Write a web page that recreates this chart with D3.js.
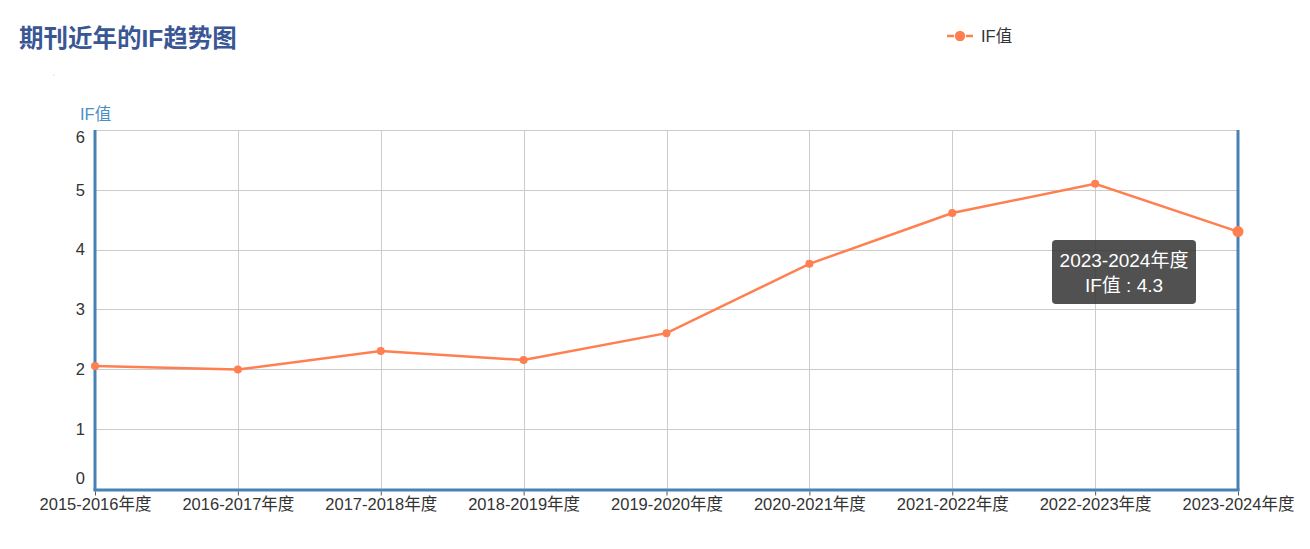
<!DOCTYPE html>
<html><head><meta charset="utf-8">
<script src="https://cdn.jsdelivr.net/npm/d3@7"></script>
<style>body{margin:0;background:#fff;}svg{font-family:"Liberation Sans","Noto Sans CJK SC",sans-serif;}</style>
</head><body>
<svg id="c" width="1310" height="549"></svg>
<script>
const categories = ["2015-2016年度","2016-2017年度","2017-2018年度","2018-2019年度","2019-2020年度","2020-2021年度","2021-2022年度","2022-2023年度","2023-2024年度"];
const ifValues = [2.05, 1.99, 2.3, 2.15, 2.6, 3.76, 4.61, 5.1, 4.3];
const yTicks = [0,1,2,3,4,5,6];
const seriesName = "IF值";
const titleText = "期刊近年的IF趋势图";

(function(){
const svg = d3.select("#c");
const pL = 95, pR = 1238, pT = 130, pB = 488.5;
const x = d3.scalePoint().domain(categories).range([pL, pR]);
const y = d3.scaleLinear().domain([0, 6]).range([pB, pT]);
const color = "#ff7f50", axisBlue = "#4682b4";
const ff = "Liberation Sans, Noto Sans CJK SC, sans-serif";

// title
svg.append("text").attr("x", 19).attr("y", 47).attr("font-size", 24.5).attr("font-weight", "bold")
  .attr("fill", "#3a5795").text(titleText);
svg.append("circle").attr("cx",54).attr("cy",75).attr("r",0.6).attr("fill","#bbb");

// legend
const lg = svg.append("g");
lg.append("line").attr("x1", 947).attr("x2", 954).attr("y1", 36).attr("y2", 36).attr("stroke", color).attr("stroke-width", 2.5);
lg.append("line").attr("x1", 966).attr("x2", 973).attr("y1", 36).attr("y2", 36).attr("stroke", color).attr("stroke-width", 2.5);
lg.append("circle").attr("cx", 960).attr("cy", 36).attr("r", 5.2).attr("fill", color);
lg.append("text").attr("x", 981).attr("y", 42).attr("font-size", 16.5).attr("fill", "#333").text(seriesName);

// y axis name
svg.append("text").attr("x", 80).attr("y", 120).attr("font-size", 16.5).attr("fill", "#4a8ec6").text(seriesName);

// horizontal grid
svg.append("g").selectAll("line").data(yTicks).join("line")
  .attr("x1", pL).attr("x2", pR).attr("y1", d => Math.round(y(d)) + 0.5).attr("y2", d => Math.round(y(d)) + 0.5)
  .attr("stroke", "#ccc").attr("stroke-width", 1);
// vertical grid
svg.append("g").selectAll("line").data(categories).join("line")
  .attr("x1", d => Math.round(x(d)) + 0.5).attr("x2", d => Math.round(x(d)) + 0.5).attr("y1", pT).attr("y2", pB)
  .attr("stroke", "#ccc").attr("stroke-width", 1);

// axes lines
svg.append("line").attr("x1", pL).attr("x2", pL).attr("y1", pT).attr("y2", pB + 2).attr("stroke", axisBlue).attr("stroke-width", 3);
svg.append("line").attr("x1", pR).attr("x2", pR).attr("y1", pT).attr("y2", pB + 2).attr("stroke", axisBlue).attr("stroke-width", 3);
svg.append("line").attr("x1", pL - 1.5).attr("x2", pR + 1.5).attr("y1", pB + 1.5).attr("y2", pB + 1.5).attr("stroke", axisBlue).attr("stroke-width", 3);

// x axis ticks & labels
const xa = svg.append("g").attr("transform", `translate(0,${pB + 3})`)
  .call(d3.axisBottom(x).tickSize(4).tickPadding(3));
xa.select(".domain").remove();
xa.selectAll(".tick line").attr("stroke", "#555");
xa.selectAll(".tick text").attr("font-size", 16.5).attr("fill", "#333").attr("font-family", ff);

// y axis labels
const ya = svg.append("g").attr("transform", `translate(${pL - 10},0)`)
  .call(d3.axisLeft(y).tickValues(yTicks).tickFormat(d3.format("d")).tickSize(0).tickPadding(0));
ya.select(".domain").remove();
ya.selectAll(".tick text").attr("font-size", 16.5).attr("fill", "#333").attr("font-family", ff)
  .attr("dy", d => d === 6 ? "0.75em" : d === 0 ? "-0.3em" : "0.32em");

// line
svg.append("path").datum(ifValues.map((v, i) => [categories[i], v]))
  .attr("fill", "none").attr("stroke", color).attr("stroke-width", 2.5)
  .attr("d", d3.line().x(d => x(d[0])).y(d => y(d[1])));
svg.append("g").selectAll("circle").data(ifValues).join("circle")
  .attr("cx", (d, i) => x(categories[i])).attr("cy", d => y(d))
  .attr("r", (d, i) => i === categories.length - 1 ? 5.5 : 4).attr("fill", color);

// tooltip
const li = categories.length - 1;
const tt = svg.append("g").attr("transform", "translate(1052,240)");
tt.append("rect").attr("width", 144).attr("height", 64).attr("rx", 4).attr("fill", "rgba(50,50,50,0.85)");
tt.append("text").attr("x", 72).attr("y", 27).attr("text-anchor", "middle").attr("font-size", 19).attr("fill", "#fff").text(categories[li]);
tt.append("text").attr("x", 72).attr("y", 52).attr("text-anchor", "middle").attr("font-size", 19).attr("fill", "#fff").text(seriesName + " : " + ifValues[li]);
})();
</script>
</body></html>
